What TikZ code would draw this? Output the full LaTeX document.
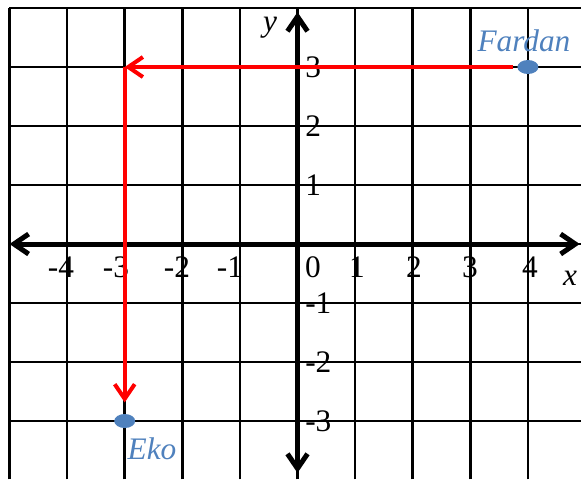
\documentclass[tikz,border=0pt]{standalone}
\usepackage{fontspec}
\setmainfont{Liberation Serif}
\usetikzlibrary{arrows.meta,shapes.geometric}

\definecolor{dotblue}{HTML}{4F81BD}

\begin{document}
\begin{tikzpicture}[
  x=43.2pt, y=44.25pt,
  font=\fontsize{23.5}{28}\selectfont,
  >={Straight Barb[length=11pt,width=15pt]},
  gridline/.style={line width=2pt, xstep=43.2pt, ystep=44.25pt},
  axis/.style={<->, line width=3.75pt},
  arr/.style={->, red, line width=3pt},
  dot/.style={ellipse, fill=dotblue, minimum width=15.75pt, minimum height=10.5pt, inner sep=0pt},
  lbl/.style={inner sep=0pt},
  person/.style={inner sep=0pt, text=dotblue, font=\fontsize{23.5}{28}\selectfont\itshape}
]

\useasboundingbox (-5.165,-3.983) rectangle (4.922,4.136);
\clip (-5.165,-3.983) rectangle (4.922,4.136);

\draw[gridline] (-5,-3.99) grid (6,4);

\coordinate (xmin) at (-5,0);
\coordinate (xmax) at (4.9,0);
\coordinate (ymin) at (0,-3.88);
\coordinate (ymax) at (0,3.93);
\draw[axis] (xmin) -- (xmax);
\draw[axis] (ymin) -- (ymax);

\foreach \v/\p in {-4/-4.106, -3/-3.151, -2/-2.092, -1/-1.172, 0/0.269, 1/1.033, 2/2.022, 3/2.995, 4/4.036}
  \node[lbl] (xl\v) at (\p,-0.39) {\v};
\foreach \v in {3,2,1,-1,-2,-3}
  \node[lbl, anchor=west] (yl\v) at (0.13,\v) {\v};
\node[lbl] (xlab) at (4.731,-0.576) {\textit{x}};
\node[lbl] (ylab) at (-0.477,3.661) {\textit{y}};

\node[dot] (fardan) at (4,3) {};
\node[dot] (eko) at (-3,-3) {};
\coordinate (turn) at (-3,3);

\draw[arr, shorten <=3pt] (fardan) -- (turn);
\draw[arr, shorten >=8.5pt] (turn) -- (eko);

\node[person] (fardanlbl) at (3.932,3.44) {Fardan};
\node[person] (ekolbl) at (-2.526,-3.475) {Eko};

\end{tikzpicture}
\end{document}
